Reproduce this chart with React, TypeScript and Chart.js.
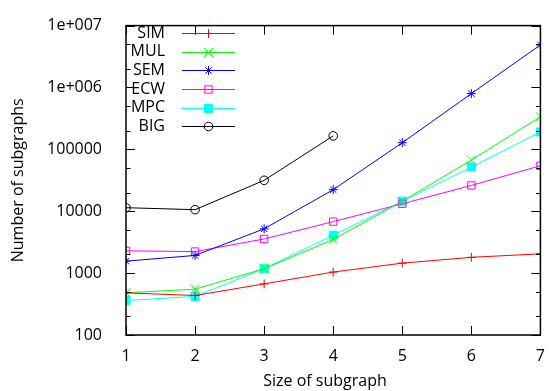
import React, { useEffect, useRef } from 'react';
import { Chart, registerables } from 'chart.js';
import * as helpers from 'chart.js/helpers';

Chart.register(...registerables);

// ---- data ----
const sizes = [1, 2, 3, 4, 5, 6, 7];
const seriesNames = ['SIM', 'MUL', 'SEM', 'ECW', 'MPC', 'BIG'];
const sim = [480, 435, 670, 1040, 1450, 1800, 2050];
const mul = [480, 550, 1180, 3500, 14500, 67000, 336000];
const sem = [1560, 1930, 5200, 22300, 128000, 796000, 4870000];
const ecw = [2290, 2230, 3560, 6800, 13200, 26100, 54300];
const mpc = [360, 420, 1180, 4100, 14500, 51700, 191000];
const big = [11400, 10600, 31600, 165000];
const yTickValues = [100, 1000, 10000, 100000, 1000000, 10000000];
const yTickLabels = ['100', '1000', '10000', '100000', '1e+006', '1e+007'];
const yMinorFactors = [2, 5];
const xTitle = 'Size of subgraph';
const yTitle = 'Number of subgraphs';

const FONT_FAMILY = '"Open Sans", "Noto Sans", sans-serif';
const FONT_SIZE = 16;

const seriesValues = [sim, mul, sem, ecw, mpc, big];
const seriesColors = ['#ff0000', '#00ff00', '#0000ff', '#ff00ff', '#00ffff', '#000000'];
const seriesStyles = ['cross', 'crossRot', 'star', 'rect', 'rect', 'circle'];
const seriesRadius = [4.5, 6.4, 4.5, 5.2, 5.7, 4.3];
const seriesFill = ['rgba(0,0,0,0)', 'rgba(0,0,0,0)', 'rgba(0,0,0,0)', 'rgba(0,0,0,0)', '#00ffff', 'rgba(0,0,0,0)'];

const framePlugin = {
  id: 'gnuplotFrame',
  afterDraw(chart: any) {
    const ctx = chart.ctx as CanvasRenderingContext2D;
    const { left, right, top, bottom } = chart.chartArea;
    const xs = chart.scales.x;
    const ys = chart.scales.y;
    ctx.save();
    // ticks (inward, mirrored)
    ctx.strokeStyle = '#000';
    ctx.lineWidth = 1;
    const major = 9;
    const minor = 4.5;
    ctx.beginPath();
    for (const v of sizes) {
      const px = Math.round(xs.getPixelForValue(v)) + 0.5;
      ctx.moveTo(px, bottom);
      ctx.lineTo(px, bottom - major);
      ctx.moveTo(px, top);
      ctx.lineTo(px, top + major);
    }
    for (const v of yTickValues) {
      const py = Math.round(ys.getPixelForValue(v)) + 0.5;
      ctx.moveTo(left, py);
      ctx.lineTo(left + major, py);
      ctx.moveTo(right, py);
      ctx.lineTo(right - major, py);
      for (const f of yMinorFactors) {
        const mv = v * f;
        if (mv >= yTickValues[yTickValues.length - 1]) continue;
        const my = Math.round(ys.getPixelForValue(mv)) + 0.5;
        ctx.moveTo(left, my);
        ctx.lineTo(left + minor, my);
        ctx.moveTo(right, my);
        ctx.lineTo(right - minor, my);
      }
    }
    ctx.stroke();
    // border
    ctx.lineWidth = 1.5;
    ctx.strokeRect(left, top, right - left, bottom - top);

    // legend
    ctx.font = `${FONT_SIZE}px ${FONT_FAMILY}`;
    ctx.textAlign = 'right';
    ctx.textBaseline = 'middle';
    chart.data.datasets.forEach((ds: any, i: number) => {
      const y = 33.3 + i * 18.55;
      ctx.fillStyle = '#000';
      ctx.fillText(ds.label, 165, y);
      ctx.strokeStyle = ds.borderColor;
      ctx.lineWidth = 1;
      ctx.beginPath();
      ctx.moveTo(182, Math.round(y) + 0.5);
      ctx.lineTo(235, Math.round(y) + 0.5);
      ctx.stroke();
      ctx.fillStyle = ds.pointBackgroundColor;
      ctx.strokeStyle = ds.pointBorderColor;
      helpers.drawPoint(ctx, {
        pointStyle: ds.pointStyle,
        rotation: 0,
        radius: ds.pointRadius,
        borderWidth: 1,
      } as any, 208.5, Math.round(y) + 0.5);
    });

    // axis titles
    ctx.fillStyle = '#000';
    ctx.textAlign = 'center';
    ctx.textBaseline = 'middle';
    ctx.fillText(xTitle, 325, 381);
    ctx.translate(18, (top + bottom) / 2);
    ctx.rotate(-Math.PI / 2);
    ctx.fillText(yTitle, 0, 0);
    ctx.restore();
  },
};

export default function App() {
  const canvasRef = useRef<HTMLCanvasElement | null>(null);

  useEffect(() => {
    if (!canvasRef.current) return;
    const datasets = seriesNames.map((name, i) => ({
      label: name,
      data: seriesValues[i].map((v, j) => ({ x: sizes[j], y: v })),
      borderColor: seriesColors[i],
      backgroundColor: seriesColors[i],
      borderWidth: 1,
      pointStyle: seriesStyles[i],
      pointRadius: seriesRadius[i],
      pointBorderWidth: 1,
      pointBorderColor: seriesColors[i],
      pointBackgroundColor: seriesFill[i],
      tension: 0,
      fill: false,
    }));
    const font = { family: FONT_FAMILY, size: FONT_SIZE };
    const chart = new Chart(canvasRef.current, {
      type: 'line',
      data: { datasets },
      options: {
        animation: false,
        responsive: true,
        maintainAspectRatio: false,
        layout: { padding: { left: 0, right: 7, top: 15, bottom: 0 } },
        plugins: {
          legend: { display: false },
          tooltip: { enabled: false },
          title: { display: false },
        },
        scales: {
          x: {
            type: 'linear',
            min: 1,
            max: 7,
            grid: { display: false },
            border: { display: false },
            ticks: {
              stepSize: 1,
              font,
              color: '#000',
              padding: 4,
              maxRotation: 0,
              callback: (v: any) => String(v),
            },
            afterFit: (s: any) => {
              s.height = 56;
            },
          },
          y: {
            type: 'logarithmic',
            min: 100,
            max: 10000000,
            grid: { display: false },
            border: { display: false },
            afterBuildTicks: (s: any) => {
              s.ticks = yTickValues.map((v) => ({ value: v }));
            },
            ticks: {
              font,
              color: '#000',
              padding: 16,
              callback: (v: any) => {
                const idx = yTickValues.indexOf(Number(v));
                return idx >= 0 ? yTickLabels[idx] : '';
              },
            },
            afterFit: (s: any) => {
              s.width = 126;
            },
          },
        },
      } as any,
      plugins: [framePlugin],
    });
    return () => chart.destroy();
  }, []);

  return (
    <div style={{ position: 'absolute', left: 0, top: 0, width: 549, height: 391, background: '#fff' }}>
      <canvas ref={canvasRef} />
    </div>
  );
}
